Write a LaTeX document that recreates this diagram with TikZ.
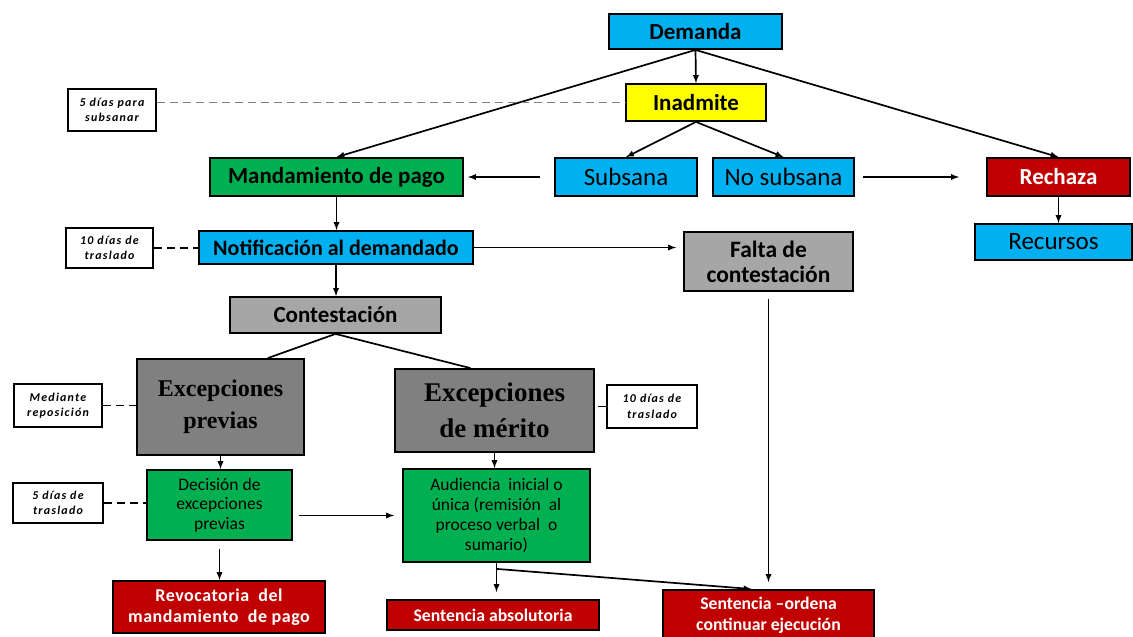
\documentclass[tikz,border=0pt]{standalone}
\usepackage{fontspec}
\setmainfont{Carlito}
\newfontfamily\romanfont{Liberation Serif}
\usetikzlibrary{calc}

\definecolor{azul}{HTML}{00B0F0}
\definecolor{amarillo}{HTML}{FFFF00}
\definecolor{verde}{HTML}{00B050}
\definecolor{rojo}{HTML}{C00000}
\definecolor{grisclaro}{HTML}{A6A6A6}
\definecolor{grisoscuro}{HTML}{808080}

\tikzset{
	caja/.style={draw=black, line width=1.8pt, inner sep=0pt, align=center},
	paso/.style={caja, font=\fontsize{23}{26}\selectfont\bfseries},
	pasoreg/.style={caja, fill=azul, font=\fontsize{25}{28}\selectfont},
	excep/.style={caja, fill=grisoscuro, font=\romanfont\bfseries},
	fallo/.style={caja, fill=rojo, text=white, font=\fontsize{17.7}{21}\selectfont\bfseries},
	nota/.style={caja, fill=white, line width=1.6pt, font=\fontsize{12}{15.5}\selectfont\bfseries\itshape\addfontfeature{LetterSpace=10}},
	flecha/.style={-latex, line width=1.7pt},
	guion/.style={dash pattern=on 8pt off 5pt, line width=1.8pt}
}

\begin{document}
\begin{tikzpicture}[x=1pt, y=-1pt]
		\fill[white] (0,0) rectangle (1133,637);
		\useasboundingbox (0,0) rectangle (1133,637);

		\node[paso, fill=azul, minimum width=173, minimum height=35] (dem) at (695.5,31.5) {Demanda};
		\node[paso, fill=amarillo, minimum width=140, minimum height=37] (inad) at (696,102.5) {Inadmite};
		\node[nota, minimum width=88, minimum height=42] (n1) at (112,110) {5 días para\\subsanar};
		\node[paso, fill=verde, minimum width=253, minimum height=38] (mand) at (336.5,177) {Mandamiento de pago};
		\node[pasoreg, minimum width=142, minimum height=38] (subs) at (626,177) {Subsana};
		\node[pasoreg, minimum width=141, minimum height=38] (nosub) at (783.5,177) {No subsana};
		\node[paso, fill=rojo, text=white, minimum width=143, minimum height=38] (rech) at (1058.5,177) {Rechaza};
		\node[pasoreg, minimum width=157, minimum height=36] (recu) at (1053.5,242) {Recursos};

		\node[paso, fill=azul, font=\fontsize{22}{25}\selectfont\bfseries, minimum width=274, minimum height=33] (notif) at (336,247.5) {Notificación al demandado};
		\node[nota, minimum width=87, minimum height=40] (n2) at (109.5,248) {10 días de\\traslado};
		\node[paso, fill=grisclaro, font=\fontsize{23.5}{25}\selectfont\bfseries, minimum width=169, minimum height=59] (falta) at (768.5,261.5) {Falta de\\contestación};
		\node[paso, fill=grisclaro, minimum width=211, minimum height=36] (cont) at (335.5,315) {Contestación};

		\node[excep, font=\fontsize{24}{32}\selectfont\romanfont\bfseries, minimum width=167, minimum height=96] (exprev) at (220.5,407) {Excepciones\\previas};
		\node[excep, font=\fontsize{27}{36}\selectfont\romanfont\bfseries, minimum width=199, minimum height=83] (exmer) at (494.5,410.5) {Excepciones\\de mérito};
		\node[nota, minimum width=88, minimum height=43] (n3) at (58,405.5) {Mediante\\reposición};
		\node[nota, minimum width=90, minimum height=43] (n4) at (652,406.5) {10 días de\\traslado};

		\node[caja, fill=verde, font=\fontsize{17.5}{19.5}\selectfont, minimum width=145, minimum height=70] (decis) at (219.5,505) {Decisión de\\excepciones\\previas};
		\node[caja, fill=verde, font=\fontsize{17.5}{20}\selectfont, minimum width=187, minimum height=93] (audi) at (496.5,515.5) {Audiencia\ \ inicial o\\única (remisión\ \ al\\proceso verbal\ \ o\\sumario)};
		\node[nota, minimum width=90, minimum height=40] (n5) at (58,503) {5 días de\\traslado};

		\node[fallo, font=\fontsize{18}{21}\selectfont\bfseries\addfontfeature{LetterSpace=3}, minimum width=212, minimum height=52] (revo) at (219,607) {Revocatoria\ \ del\\mandamiento\ \ de pago};
		\node[fallo, minimum width=212, minimum height=30] (sabs) at (493,615) {Sentencia absolutoria};
		\node[fallo, minimum width=211, minimum height=50] (sord) at (768.5,615) {Sentencia --ordena\\continuar ejecución};

		\draw[flecha] (dem.south) -- (inad.north);
		\draw[flecha] (dem.south) -- (mand.north);
		\draw[flecha] (dem.south) -- (rech.north);
		\draw[flecha] (inad.south) -- (subs.north);
		\draw[flecha] (inad.south) -- (nosub.north);
		\draw[flecha, shorten <=14pt, shorten >=4pt] (subs.west) -- (mand.east);
		\draw[flecha, shorten <=8pt, shorten >=27pt] (nosub.east) -- (rech.west);
		\draw[flecha] (rech.south) -- (rech.south |- recu.north);
		\draw[flecha] (mand.south) -- (mand.south |- notif.north);
		\draw[flecha, shorten >=7pt] (notif.east) -- (notif.east -| falta.west);
		\draw[flecha] (notif.south) -- (notif.south |- cont.north);
		\draw[line width=1.7pt] (cont.south) -- ($(exprev.north west)!0.78!(exprev.north east)$);
		\draw[line width=1.7pt] (cont.south) -- ($(exmer.north west)!0.38!(exmer.north east)$);
		\draw[flecha, shorten <=7pt, shorten >=7pt] (falta.south) -- (falta.south |- sord.north);
		\draw[flecha] (exprev.south) -- (exprev.south |- decis.north);
		\draw[flecha] (exmer.south) -- (exmer.south |- audi.north);
		\draw[flecha, shorten <=6pt, shorten >=8pt] (decis.east |- audi.west) -- (audi.west);
		\draw[flecha, shorten <=8pt] (decis.south) -- (decis.south |- revo.north);

		\coordinate (rama) at ([yshift=-6pt]audi.south);
		\draw[line width=1.7pt] (audi.south) -- (rama);
		\draw[flecha, shorten >=7pt] (rama) -- (rama |- sabs.north);
		\draw[flecha, shorten >=1pt] (rama) -- ([xshift=-16pt]sord.north);

		\draw[guion, grisoscuro] (n1.east |- inad.west) -- (inad.west);
		\draw[guion] (n2.east) -- (n2.east -| notif.west);
		\draw[guion] (n3.east) -- (n3.east -| exprev.west);
		\draw[guion] (n4.west) -- (n4.west -| exmer.east);
		\draw[guion] (n5.east) -- (n5.east -| decis.west);
\end{tikzpicture}
\end{document}
